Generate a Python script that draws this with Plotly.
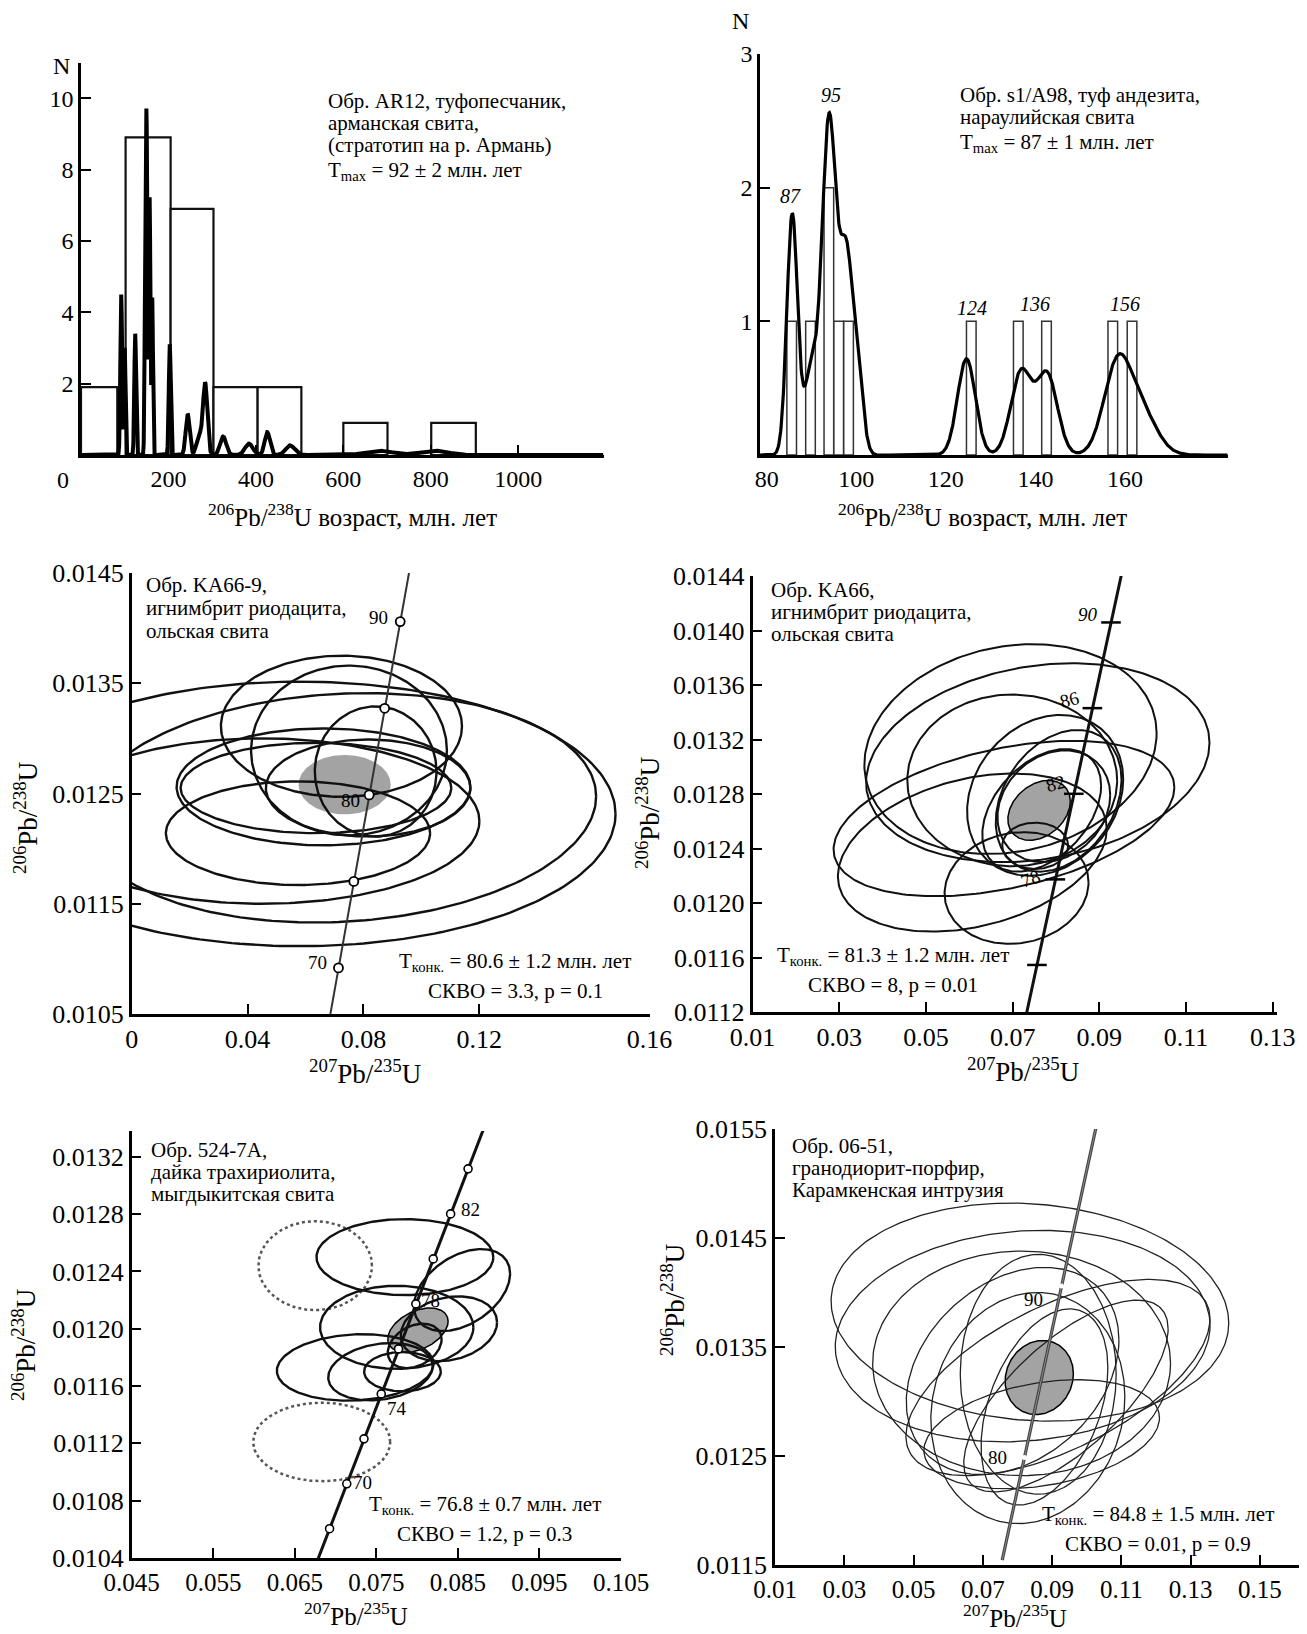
import numpy as np
import plotly.graph_objects as go

W, H = 1307, 1634
OFF = 8            # page body margin that shifts the plot
FW, FH = W - OFF, H - OFF
FONT = "Liberation Serif"
LAM238 = 1.55125e-4   # 1/Ma
LAM235 = 9.8485e-4    # 1/Ma

# ---------------- Panel 1 (AR12) ----------------
p1_bin_left = [0, 102, 205, 303, 404, 600, 801]
p1_bin_right = [83, 205, 303, 404, 504, 701, 903]
p1_counts = [1.9, 8.9, 6.9, 1.9, 1.9, 0.9, 0.9]
p1_peak_age = [92, 100, 124, 147, 150, 157, 163, 203, 244, 270, 284, 325, 384, 426, 478, 681, 808]
p1_peak_height = [4.5, 3.0, 3.4, 4.0, 8.8, 7.2, 4.4, 3.1, 1.15, 0.55, 2.0, 0.52, 0.32, 0.64, 0.27, 0.12, 0.12]
p1_peak_sigma = [2.0, 1.7, 2.0, 1.6, 2.0, 1.7, 1.5, 2.2, 4.5, 6.0, 5.0, 7.0, 9.0, 6.0, 10.0, 30.0, 30.0]

# ---------------- Panel 2 (s1/A98) ----------------
p2_bin_left = [84.5, 88.7, 92.8, 95.0, 97.2, 124.6, 135.1, 141.4, 156.2, 160.5]
p2_bin_width = [2.15] * 10
p2_counts = [1, 1, 2, 1, 1, 1, 1, 1, 1, 1]
p2_peak_age = [85.7, 89.8, 93.9, 97.8, 100.5, 124.6, 136.8, 142.6, 158.2, 163.5]
p2_peak_height = [1.80, 0.60, 2.50, 1.45, 0.45, 0.72, 0.62, 0.60, 0.64, 0.32]
p2_peak_sigma = [1.2, 1.4, 1.6, 1.5, 1.2, 2.0, 2.3, 2.3, 3.0, 3.5]
p2_label_text = ["87", "95", "124", "136", "156"]
p2_label_x = [85.2, 94.4, 125.8, 139.9, 159.9]
p2_label_y = [1.94, 2.69, 1.10, 1.13, 1.13]

# ---------------- Panel 3 (KA66-9) ----------------
p3_cx = [0.058, 0.072, 0.045, 0.0724, 0.075, 0.0662, 0.0636, 0.0816, 0.0842, 0.0574]
p3_cy = [0.012315, 0.01237, 0.01225, 0.01311, 0.01289, 0.01256, 0.01255, 0.01255, 0.0127, 0.01214]
p3_sx = [0.109, 0.0883, 0.075, 0.0416, 0.0338, 0.0507, 0.0467, 0.0353, 0.021, 0.0456]
p3_sy = [0.0012, 0.00104, 0.00075, 0.00064, 0.00077, 0.00053, 0.00041, 0.00044, 0.00059, 0.00047]
p3_rho = [0.0, 0.1, 0.0, 0.0, 0.0, 0.0, 0.0, 0.0, 0.0, 0.0]
p3_mean = [0.0735, 0.01258, 0.0159, 0.00027, 0.0]
p3_ages = [70, 75, 80, 85, 90]
p3_age_range = [66, 94]
p3_lab_text = ["90", "80", "70"]
p3_lab_x = [0.0853, 0.0754, 0.0643]
p3_lab_y = [0.0141, 0.01244, 0.01097]

# ---------------- Panel 4 (KA66) ----------------
p4_cx = [0.0695, 0.0758, 0.068, 0.0607, 0.0709, 0.0699, 0.0775, 0.0806, 0.0795, 0.0767, 0.0752]
p4_cy = [0.01313, 0.01303, 0.01262, 0.01237, 0.01211, 0.0129, 0.01279, 0.01275, 0.01271, 0.01268, 0.01242]
p4_sx = [0.0337, 0.0396, 0.0393, 0.031, 0.0166, 0.0242, 0.018, 0.0145, 0.013, 0.0137, 0.0076]
p4_sy = [0.00077, 0.00073, 0.00057, 0.00058, 0.00041, 0.00063, 0.00059, 0.00052, 0.00041, 0.00045, 0.00017]
p4_rho = [0.15, 0.2, 0.4, 0.3, 0.1, 0.0, 0.2, 0.3, 0.2, 0.4, 0.0]
p4_mean = [0.0761, 0.01268, 0.0072, 0.00022, 0.3]
p4_ages = [74, 78, 82, 86, 90]
p4_age_range = [71.5, 92.6]
p4_lab_text = ["<i>90</i>", "86", "82", "78"]
p4_lab_x = [0.0874, 0.0832, 0.0799, 0.0742]
p4_lab_y = [0.01412, 0.01349, 0.01288, 0.01218]
p4_lab_angle = [0, -15, -15, -20]

# ---------------- Panel 5 (524-7A) ----------------
p5_cx = [0.0785, 0.0855, 0.0775, 0.0839, 0.0724, 0.0755, 0.0782, 0.0797]
p5_cy = [0.0125, 0.01227, 0.01201, 0.0120, 0.01173, 0.0117, 0.0117, 0.01188]
p5_sx = [0.01084, 0.0059, 0.0094, 0.0059, 0.0096, 0.0064, 0.0047, 0.0033]
p5_sy = [0.000265, 0.000286, 0.00029, 0.000226, 0.000232, 0.0002, 0.000137, 0.000155]
p5_rho = [0.0, 0.4, 0.0, 0.2, 0.1, 0.2, 0.0, 0.3]
p5_dot_cx = [0.0675, 0.0683]
p5_dot_cy = [0.01244, 0.01121]
p5_dot_sx = [0.00696, 0.0084]
p5_dot_sy = [0.00031, 0.000274]
p5_mean = [0.0801, 0.01199, 0.0037, 0.000155, 0.4]
p5_ages = [68, 70, 72, 74, 76, 78, 80, 82, 84]
p5_age_range = [66.5, 86.4]
p5_lab_text = ["82", "78", "74", "70"]
p5_lab_x = [0.0866, 0.0817, 0.0775, 0.0733]
p5_lab_y = [0.01283, 0.0122, 0.01144, 0.01093]

# ---------------- Panel 6 (06-51) ----------------
p6_cx = [0.0836, 0.0815, 0.0917, 0.0812, 0.0786, 0.083, 0.086, 0.0878, 0.094, 0.087]
p6_cy = [0.01382, 0.0136, 0.01322, 0.01335, 0.01328, 0.01294, 0.01325, 0.01295, 0.01305, 0.0127]
p6_sx = [0.0574, 0.0541, 0.0439, 0.043, 0.0307, 0.028, 0.0225, 0.0183, 0.0295, 0.034]
p6_sy = [0.0010, 0.00097, 0.0009, 0.00103, 0.00095, 0.00106, 0.0011, 0.0009, 0.00088, 0.0005]
p6_rho = [-0.1, 0.1, 0.6, 0.0, 0.3, 0.1, 0.0, 0.4, 0.7, 0.3]
p6_mean = [0.0863, 0.01322, 0.00985, 0.00034, 0.1]
p6_ages = [80, 90]
p6_age_range = [74.0, 100.0]
p6_lab_text = ["90", "80"]
p6_lab_x = [0.0845, 0.0741]
p6_lab_y = [0.01394, 0.01249]

# ---------------- helpers ----------------
def kde(xgrid, ages, heights, sigmas):
    y = np.zeros_like(xgrid)
    for a, h, s in zip(ages, heights, sigmas):
        y += h * np.exp(-0.5 * ((xgrid - a) / s) ** 2)
    return y

def ellipse(cx, cy, sx, sy, rho, n=240):
    t = np.linspace(0, 2 * np.pi, n)
    x = cx + sx * np.cos(t)
    y = cy + sy * (rho * np.cos(t) + np.sqrt(1 - rho ** 2) * np.sin(t))
    return x, y

def concordia(t):
    t = np.asarray(t, dtype=float)
    return np.exp(LAM235 * t) - 1, np.exp(LAM238 * t) - 1

def pxx(px):
    return (px - OFF) / FW

def pxy(py):
    return 1 - (py - OFF) / FH

fig = go.Figure()
ann = []

def txt(text, x, y, xref, yref, size=22, xanchor="center", yanchor="middle", angle=0):
    ann.append(dict(text=text, x=x, y=y, xref=xref, yref=yref, xanchor=xanchor, yanchor=yanchor,
                    showarrow=False, textangle=angle,
                    font=dict(family=FONT, size=size, color="black")))

def lines(lst, x, y, xref, yref, size, spacing, xanchor="left"):
    shift = 0
    for i, s in enumerate(lst):
        if i > 0:
            shift += spacing + (4 if "<sub>" in s else 0)
        ann.append(dict(text=s, x=x, y=y, xref=xref, yref=yref, xanchor=xanchor, yanchor="middle",
                        yshift=-shift, showarrow=False,
                        font=dict(family=FONT, size=size, color="black")))

# ---- Panel 1 ----
c1 = [(l + r) / 2 for l, r in zip(p1_bin_left, p1_bin_right)]
w1 = [r - l for l, r in zip(p1_bin_left, p1_bin_right)]
fig.add_trace(go.Bar(x=c1, y=p1_counts, width=w1, xaxis="x", yaxis="y",
                     marker=dict(color="white", line=dict(color="#111", width=2.2)), showlegend=False))
g1 = np.arange(0, 1195, 0.25)
fig.add_trace(go.Scatter(x=g1, y=kde(g1, p1_peak_age, p1_peak_height, p1_peak_sigma), mode="lines",
                         line=dict(color="black", width=4.0), xaxis="x", yaxis="y", showlegend=False))

# ---- Panel 2 ----
c2 = [l + w / 2 for l, w in zip(p2_bin_left, p2_bin_width)]
fig.add_trace(go.Bar(x=c2, y=p2_counts, width=p2_bin_width, xaxis="x2", yaxis="y2",
                     marker=dict(color="white", line=dict(color="#333", width=1.5)), showlegend=False))
g2 = np.arange(78.5, 183, 0.1)
fig.add_trace(go.Scatter(x=g2, y=kde(g2, p2_peak_age, p2_peak_height, p2_peak_sigma), mode="lines",
                         line=dict(color="black", width=3.2), xaxis="x2", yaxis="y2", showlegend=False))

# ---- Ellipse panels ----
def ellipse_panel(xa, ya, cxs, cys, sxs, sys_, rhos, mean, lw, color, mean_outline, conc_range,
                  ages, conc_w, conc_color, marker, conc_inner=None):
    mx, my = ellipse(*mean)
    fig.add_trace(go.Scatter(x=mx, y=my, mode="lines", fill="toself", fillcolor="#a3a3a3",
                             line=dict(color="black" if mean_outline else "rgba(0,0,0,0)",
                                       width=1.5 if mean_outline else 0),
                             xaxis=xa, yaxis=ya, showlegend=False))
    for cx, cy, sx, sy, r in zip(cxs, cys, sxs, sys_, rhos):
        ex, ey = ellipse(cx, cy, sx, sy, r)
        fig.add_trace(go.Scatter(x=ex, y=ey, mode="lines", line=dict(color=color, width=lw),
                                 xaxis=xa, yaxis=ya, showlegend=False))
    t = np.linspace(conc_range[0], conc_range[1], 200)
    cxv, cyv = concordia(t)
    fig.add_trace(go.Scatter(x=cxv, y=cyv, mode="lines", line=dict(color=conc_color, width=conc_w),
                             xaxis=xa, yaxis=ya, showlegend=False))
    if conc_inner:
        fig.add_trace(go.Scatter(x=cxv, y=cyv, mode="lines", line=dict(color=conc_inner, width=0.8),
                                 xaxis=xa, yaxis=ya, showlegend=False))
    ax_, ay_ = concordia(ages)
    fig.add_trace(go.Scatter(x=ax_, y=ay_, mode="markers", marker=marker, xaxis=xa, yaxis=ya,
                             showlegend=False, cliponaxis=False))

open_circ = dict(symbol="circle", size=9, color="white", line=dict(color="black", width=1.8))
ellipse_panel("x3", "y3", p3_cx, p3_cy, p3_sx, p3_sy, p3_rho, p3_mean, 2.4, "#111", False,
              p3_age_range, p3_ages, 2.0, "#333", open_circ)
ellipse_panel("x4", "y4", p4_cx, p4_cy, p4_sx, p4_sy, p4_rho, p4_mean, 2.0, "#111", True,
              p4_age_range, p4_ages, 3.0, "#111",
              dict(symbol="line-ew", size=14, line=dict(color="black", width=2.5)))
for cx, cy, sx, sy in zip(p5_dot_cx, p5_dot_cy, p5_dot_sx, p5_dot_sy):
    ex, ey = ellipse(cx, cy, sx, sy, 0.0)
    fig.add_trace(go.Scatter(x=ex, y=ey, mode="lines", line=dict(color="#555", width=2.5, dash="dot"),
                             xaxis="x5", yaxis="y5", showlegend=False))
ellipse_panel("x5", "y5", p5_cx, p5_cy, p5_sx, p5_sy, p5_rho, p5_mean, 2.4, "#111", True,
              p5_age_range, p5_ages, 3.0, "#111", dict(symbol="circle", size=8, color="white",
                                                        line=dict(color="black", width=1.6)))
ellipse_panel("x6", "y6", p6_cx, p6_cy, p6_sx, p6_sy, p6_rho, p6_mean, 1.3, "#222", True,
              p6_age_range, p6_ages, 3.2, "#444",
              dict(symbol="circle", size=5, color="white", line=dict(width=0)), conc_inner="#9a9a9a")

# ---------------- axes ----------------
def axis(domain, rng, tickvals, ticktext, anchor, size, ticks="inside"):
    return dict(domain=domain, range=rng, tickvals=tickvals, ticktext=ticktext, anchor=anchor,
                showline=True, linecolor="black", linewidth=2.5, mirror=False, automargin=False,
                ticks=ticks, ticklen=10, tickwidth=2, tickcolor="black",
                showgrid=False, zeroline=False, fixedrange=True,
                tickfont=dict(family=FONT, size=size, color="black"))

def fmt(v, d):
    return f"{v:.{d}f}"

p1_xt = [200, 400, 600, 800, 1000]
p1_yt = [2, 4, 6, 8, 10]
p2_xt = [80, 100, 120, 140, 160]
p2_yt = [1, 2, 3]
p3_xt = [0, 0.04, 0.08, 0.12, 0.1787]
p3_xl = ["0", "0.04", "0.08", "0.12", "0.16"]
p3_yt = [0.0105, 0.0115, 0.0125, 0.0135, 0.0145]
p4_xt = [0.01, 0.03, 0.05, 0.07, 0.09, 0.11, 0.13]
p4_yt = [0.0112, 0.0116, 0.0120, 0.0124, 0.0128, 0.0132, 0.0136, 0.0140, 0.0144]
p5_xt = [0.045, 0.055, 0.065, 0.075, 0.085, 0.095, 0.105]
p5_yt = [0.0104, 0.0108, 0.0112, 0.0116, 0.0120, 0.0124, 0.0128, 0.0132]
p6_xt = [0.01, 0.03, 0.05, 0.07, 0.09, 0.11, 0.13, 0.15]
p6_yt = [0.0115, 0.0125, 0.0135, 0.0145, 0.0155]

layout = dict(
    width=FW, height=FH, margin=dict(l=0, r=0, t=0, b=0, autoexpand=False),
    paper_bgcolor="white", plot_bgcolor="white",
    showlegend=False, barmode="overlay",
    xaxis=axis([pxx(81), pxx(603.5)], [0, 1195], p1_xt, [str(v) for v in p1_xt], "y", 24),
    yaxis=axis([pxy(455), pxy(62.5)], [0, 11], p1_yt, [str(v) for v in p1_yt], "x", 24),
    xaxis2=axis([pxx(760), pxx(1228)], [78.5, 183], p2_xt, [str(v) for v in p2_xt], "y2", 24, ticks=""),
    yaxis2=axis([pxy(455), pxy(54)], [0, 3], p2_yt, [str(v) for v in p2_yt], "x2", 24),
    xaxis3=axis([pxx(131.7), pxx(650)], [0, 0.1789], p3_xt, p3_xl, "y3", 26),
    yaxis3=axis([pxy(1014), pxy(573)], [0.0105, 0.0145], p3_yt, [fmt(v, 4) for v in p3_yt], "x3", 26),
    xaxis4=axis([pxx(752.5), pxx(1276.7)], [0.01, 0.1309], p4_xt, [fmt(v, 2) for v in p4_xt], "y4", 26),
    yaxis4=axis([pxy(1012), pxy(576)], [0.0112, 0.0144], p4_yt, [fmt(v, 4) for v in p4_yt], "x4", 26),
    xaxis5=axis([pxx(131.7), pxx(621)], [0.045, 0.105], p5_xt, [fmt(v, 3) for v in p5_xt], "y5", 25),
    yaxis5=axis([pxy(1558), pxy(1131)], [0.0104, 0.01338], p5_yt, [fmt(v, 4) for v in p5_yt], "x5", 26),
    xaxis6=axis([pxx(775), 1.0], [0.01, 0.1636], p6_xt, [fmt(v, 2) for v in p6_xt], "y6", 25),
    yaxis6=axis([pxy(1565), pxy(1129)], [0.0115, 0.0155], p6_yt, [fmt(v, 4) for v in p6_yt], "x6", 26),
)

# ---------------- texts ----------------
SZ, SP = 21, 23
# panel 1
txt("N", pxx(61), pxy(66), "paper", "paper", 24)
txt("0", pxx(63), pxy(480), "paper", "paper", 24)
lines(["Обр. AR12, туфопесчаник,", "арманская свита,", "(стратотип на р. Армань)",
       "T<sub>max</sub> = 92 ± 2 млн. лет"], 560, 9.93, "x", "y", SZ, 22)
txt("<sup>206</sup>Pb/<sup>238</sup>U возраст, млн. лет", pxx(352), pxy(515), "paper", "paper", 25)
# panel 2
txt("N", pxx(740), pxy(21), "paper", "paper", 24)
lines(["Обр. s1/A98, туф андезита,", "нараулийская свита", "T<sub>max</sub> = 87 ± 1 млн. лет"],
      122.8, 2.69, "x2", "y2", SZ, 22)
for t_, x_, y_ in zip(p2_label_text, p2_label_x, p2_label_y):
    txt("<i>" + t_ + "</i>", x_, y_, "x2", "y2", 20)
txt("<sup>206</sup>Pb/<sup>238</sup>U возраст, млн. лет", pxx(982), pxy(515), "paper", "paper", 25)

# panel 3
lines(["Обр. KA66-9,", "игнимбрит риодацита,", "ольская свита"], 0.0044, 0.014395, "x3", "y3", SZ, SP)
for t_, x_, y_ in zip(p3_lab_text, p3_lab_x, p3_lab_y):
    txt(t_, x_, y_, "x3", "y3", 19)
txt("T<sub>конк.</sub> = 80.6 ± 1.2 млн. лет", 0.1324, 0.01097, "x3", "y3", SZ)
txt("СКВО = 3.3, p = 0.1", 0.1324, 0.01071, "x3", "y3", SZ)
txt("<sup>207</sup>Pb/<sup>235</sup>U", pxx(365), pxy(1072), "paper", "paper", 27)
txt("<sup>206</sup>Pb/<sup>238</sup>U", pxx(26), pxy(818), "paper", "paper", 27, angle=-90)

# panel 4
lines(["Обр. KA66,", "игнимбрит риодацита,", "ольская свита"], 0.0138, 0.0143, "x4", "y4", SZ, 22)
for t_, x_, y_, a_ in zip(p4_lab_text, p4_lab_x, p4_lab_y, p4_lab_angle):
    txt(t_, x_, y_, "x4", "y4", 19, angle=a_)
txt("T<sub>конк.</sub> = 81.3 ± 1.2 млн. лет", 0.0424, 0.01161, "x4", "y4", SZ)
txt("СКВО = 8, p = 0.01", 0.0424, 0.0114, "x4", "y4", SZ)
txt("<sup>207</sup>Pb/<sup>235</sup>U", pxx(1023), pxy(1070), "paper", "paper", 27)
txt("<sup>206</sup>Pb/<sup>238</sup>U", pxx(648), pxy(813), "paper", "paper", 27, angle=-90)

# panel 5
lines(["Обр. 524-7А,", "дайка трахириолита,", "мыгдыкитская свита"], 0.0471, 0.01325, "x5", "y5", SZ, 22)
for t_, x_, y_ in zip(p5_lab_text, p5_lab_x, p5_lab_y):
    txt(t_, x_, y_, "x5", "y5", 19)
txt("T<sub>конк.</sub> = 76.8 ± 0.7 млн. лет", 0.0883, 0.01077, "x5", "y5", SZ)
txt("СКВО = 1.2, p = 0.3", 0.0882, 0.01057, "x5", "y5", SZ)
txt("<sup>207</sup>Pb/<sup>235</sup>U", pxx(356), pxy(1614), "paper", "paper", 25)
txt("<sup>206</sup>Pb/<sup>238</sup>U", pxx(24), pxy(1345), "paper", "paper", 27, angle=-90)

# panel 6
lines(["Обр. 06-51,", "гранодиорит-порфир,", "Карамкенская интрузия"], 0.0142, 0.01534, "x6", "y6", SZ, 22)
for t_, x_, y_ in zip(p6_lab_text, p6_lab_x, p6_lab_y):
    txt(t_, x_, y_, "x6", "y6", 19)
txt("T<sub>конк.</sub> = 84.8 ± 1.5 млн. лет", 0.1206, 0.01196, "x6", "y6", SZ)
txt("СКВО = 0.01, p = 0.9", 0.1207, 0.01169, "x6", "y6", SZ)
txt("<sup>207</sup>Pb/<sup>235</sup>U", pxx(1015), pxy(1616), "paper", "paper", 25)
txt("<sup>206</sup>Pb/<sup>238</sup>U", pxx(673), pxy(1300), "paper", "paper", 27, angle=-90)

layout["annotations"] = ann
fig.update_layout(**layout)
fig.write_html("out.html")
